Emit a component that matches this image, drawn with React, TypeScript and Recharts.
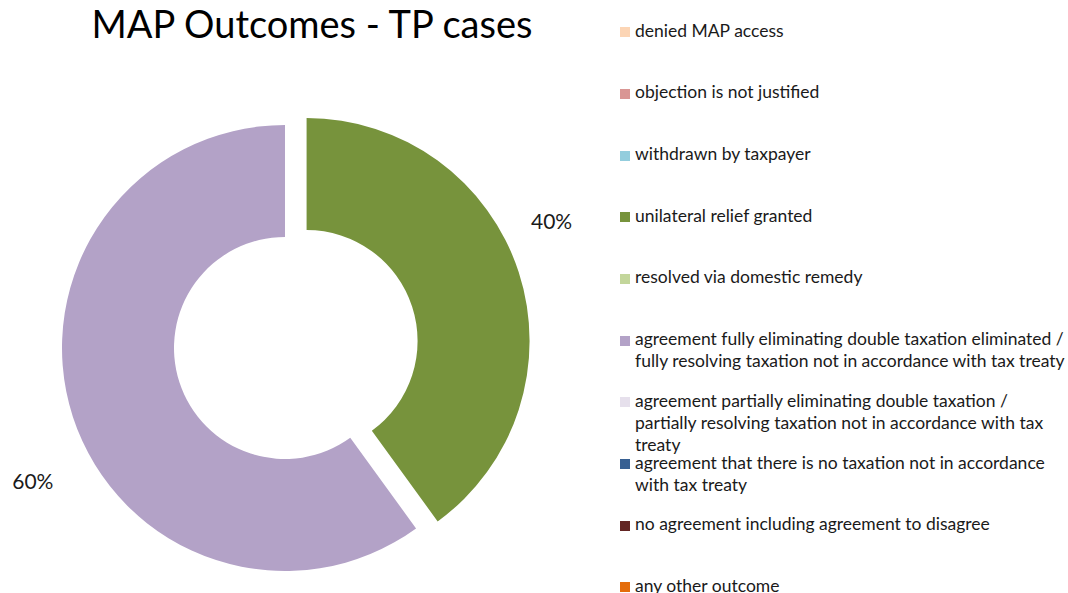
import React from "react";
import { Cell, Legend, Pie, PieChart } from "recharts";

const categories = [
  "denied MAP access",
  "objection is not justified",
  "withdrawn by taxpayer",
  "unilateral relief granted",
  "resolved via domestic remedy",
  "agreement fully eliminating double taxation eliminated / fully resolving taxation not in accordance with tax treaty",
  "agreement partially eliminating double taxation / partially resolving taxation not in accordance with tax treaty",
  "agreement that there is no taxation not in accordance with tax treaty",
  "no agreement including agreement to disagree",
  "any other outcome"
];

const values = [0, 0, 0, 40, 0, 60, 0, 0, 0, 0];

const colors = [
  "#FCD5B5",
  "#D99694",
  "#93CDDD",
  "#77933C",
  "#C3D69B",
  "#B3A2C7",
  "#E6E0EC",
  "#376092",
  "#632523",
  "#E46C0A"
];

// the slice pulled out of the ring
const explodedIndex = 3;

const data = categories.map((name, i) => ({ name, value: values[i] }));

const CX = 285;
const CY = 348;
const OUTER = 223;
const INNER = 111;
const EXPLODE = 22.7;
const RAD = Math.PI / 180;
const FONT = "Lato, 'Noto Sans', sans-serif";

// mid angle of the exploded slice, clockwise from 12 o'clock
const total = values.reduce((a, b) => a + b, 0);
const before = values.slice(0, explodedIndex).reduce((a, b) => a + b, 0);
const midDeg = ((before + values[explodedIndex] / 2) / total) * 360;
const dx = EXPLODE * Math.sin(midDeg * RAD);
const dy = -EXPLODE * Math.cos(midDeg * RAD);

function makeLabel(onlyIndex: number) {
  return (props: any) => {
    const { cx, cy, midAngle, outerRadius, percent, index } = props;
    if (index !== onlyIndex || !percent) return null;
    const ang = midAngle + 9;
    const right = Math.cos(-midAngle * RAD) > 0;
    const r = outerRadius + (right ? 52 : 60);
    const x = cx + r * Math.cos(-ang * RAD);
    const y = cy + r * Math.sin(-ang * RAD) + 4;
    return (
      <text
        x={x}
        y={y}
        textAnchor="middle"
        dominantBaseline="central"
        fontFamily={FONT}
        fontSize={21}
        fill="#1a1a1a"
      >
        {`${Math.round(percent * 100)}%`}
      </text>
    );
  };
}

function LegendContent() {
  return (
    <div style={{ fontFamily: FONT, fontSize: 17.5, color: "#1a1a1a" }}>
      {categories.map((name, i) => (
        <div key={name} style={{ position: "relative", height: 61.7, lineHeight: "22px" }}>
          <span
            style={{
              position: "absolute",
              left: 0,
              top: 7.5,
              width: 10,
              height: 10,
              background: colors[i]
            }}
          />
          <div style={{ marginLeft: 15, width: 434 }}>{name}</div>
        </div>
      ))}
    </div>
  );
}

export default function App() {
  return (
    <div
      style={{
        position: "fixed",
        left: 0,
        top: 0,
        width: 1068,
        height: 593,
        background: "#ffffff",
        overflow: "hidden"
      }}
    >
      <div
        style={{
          position: "absolute",
          left: 0,
          width: 624,
          top: 4,
          textAlign: "center",
          fontFamily: FONT,
          fontSize: 38,
          lineHeight: 1,
          color: "#000"
        }}
      >
        MAP Outcomes - TP cases
      </div>
      <PieChart width={1068} height={593} margin={{ top: 0, right: 0, bottom: 0, left: 0 }}>
        <Pie
          data={data}
          dataKey="value"
          nameKey="name"
          cx={CX}
          cy={CY}
          innerRadius={INNER}
          outerRadius={OUTER}
          startAngle={90}
          endAngle={-270}
          stroke="none"
          labelLine={false}
          label={makeLabel(5)}
          isAnimationActive={false}
        >
          {data.map((d, i) => (
            <Cell key={d.name} fill={i === explodedIndex ? "none" : colors[i]} stroke="none" />
          ))}
        </Pie>
        <Pie
          data={data}
          dataKey="value"
          nameKey="name"
          cx={CX + dx}
          cy={CY + dy}
          innerRadius={INNER}
          outerRadius={OUTER}
          startAngle={90}
          endAngle={-270}
          stroke="none"
          labelLine={false}
          label={makeLabel(explodedIndex)}
          isAnimationActive={false}
        >
          {data.map((d, i) => (
            <Cell key={d.name} fill={i === explodedIndex ? colors[i] : "none"} stroke="none" />
          ))}
        </Pie>
        <Legend
          content={<LegendContent />}
          wrapperStyle={{ position: "absolute", left: 620, top: 19.7, width: 448 }}
        />
      </PieChart>
    </div>
  );
}
